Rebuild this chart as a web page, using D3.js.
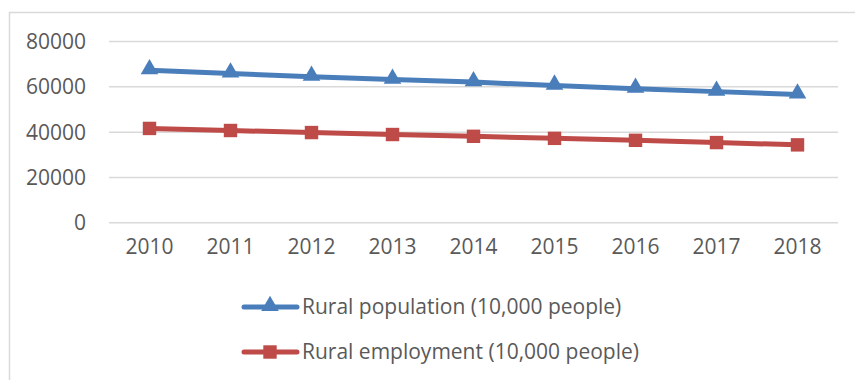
<!DOCTYPE html>
<html>
<head>
<meta charset="utf-8">
<script src="https://cdn.jsdelivr.net/npm/d3@7"></script>
<style>
  body { margin: 0; background: #fff; }
  svg text { font-family: "Open Sans", "Liberation Sans", sans-serif; fill: #595959; }
</style>
</head>
<body>
<div id="chart"></div>
<script>
// datos
const years = ["2010", "2011", "2012", "2013", "2014", "2015", "2016", "2017", "2018"];
const ruralPopulation = [67113, 65656, 64222, 62961, 61866, 60346, 58973, 57661, 56401];
const ruralEmployment = [41418, 40506, 39602, 38737, 37943, 37041, 36175, 35178, 34167];
const yTicks = [0, 20000, 40000, 60000, 80000];
const seriesNames = ["Rural population (10,000 people)", "Rural employment (10,000 people)"];

const width = 855, height = 380;
const margin = { top: 41, right: 17, bottom: 158, left: 109 };

const svg = d3.select("#chart").append("svg")
    .attr("width", width)
    .attr("height", height);

// borde del gráfico
svg.append("rect")
    .attr("x", 9.5).attr("y", 12.5)
    .attr("width", width + 10).attr("height", height + 10)
    .attr("fill", "none")
    .attr("stroke", "#d9d9d9")
    .attr("stroke-width", 1.5);

const xScale = d3.scaleBand()
    .domain(years)
    .range([margin.left, width - margin.right]);

const yScale = d3.scaleLinear()
    .domain([0, 80000])
    .range([height - margin.bottom + 0.3, margin.top]);

// eje Y con rejilla
svg.append("g")
    .attr("class", "y-axis")
    .attr("transform", `translate(${margin.left},0)`)
    .call(d3.axisLeft(yScale).tickValues(yTicks).tickFormat(d3.format("d")).tickSize(0).tickPadding(23))
    .call(g => g.select(".domain").remove())
    .call(g => g.selectAll(".tick line").clone()
        .attr("x2", width - margin.right - margin.left)
        .attr("stroke", "#d9d9d9")
        .attr("stroke-width", 1.5))
    .call(g => g.selectAll(".tick text")
        .style("font-size", "21px")
        .attr("dy", "0.35em"));

// eje X
svg.append("g")
    .attr("class", "x-axis")
    .attr("transform", `translate(0,${yScale(0)})`)
    .call(d3.axisBottom(xScale).tickSize(0).tickPadding(17))
    .call(g => g.select(".domain").remove())
    .call(g => g.selectAll(".tick text")
        .style("font-size", "21px"));

const cx = d => xScale(d) + xScale.bandwidth() / 2;

const series = [
    { name: seriesNames[0], values: ruralPopulation, color: "#4a7ebb", symbol: d3.symbolTriangle, size: 135 },
    { name: seriesNames[1], values: ruralEmployment, color: "#be4b48", symbol: d3.symbolSquare, size: 180 }
];

const line = d3.line()
    .x((d, i) => cx(years[i]))
    .y(d => yScale(d));

series.forEach(s => {
    svg.append("path")
        .attr("fill", "none")
        .attr("stroke", s.color)
        .attr("stroke-width", 5)
        .attr("stroke-linejoin", "round")
        .attr("d", line(s.values));

    svg.selectAll(null)
        .data(s.values)
        .enter()
        .append("path")
        .attr("d", d3.symbol().type(s.symbol).size(s.size))
        .attr("transform", (d, i) => `translate(${cx(years[i])},${yScale(d) + (s.symbol === d3.symbolTriangle ? -1 : 0)})`)
        .attr("fill", s.color);
});

// leyenda
const legend = svg.append("g").attr("class", "legend");
series.forEach((s, i) => {
    const y = 307 + i * 45;
    const g = legend.append("g").attr("transform", `translate(0,${y})`);
    g.append("line")
        .attr("x1", 244).attr("x2", 297)
        .attr("stroke", s.color)
        .attr("stroke-width", 5)
        .attr("stroke-linecap", "round");
    g.append("path")
        .attr("d", d3.symbol().type(s.symbol).size(s.size))
        .attr("transform", `translate(270,${s.symbol === d3.symbolTriangle ? -1 : 0})`)
        .attr("fill", s.color);
    g.append("text")
        .attr("x", 302)
        .attr("dy", "0.35em")
        .style("font-size", "21px")
        .text(s.name);
});
</script>
</body>
</html>
